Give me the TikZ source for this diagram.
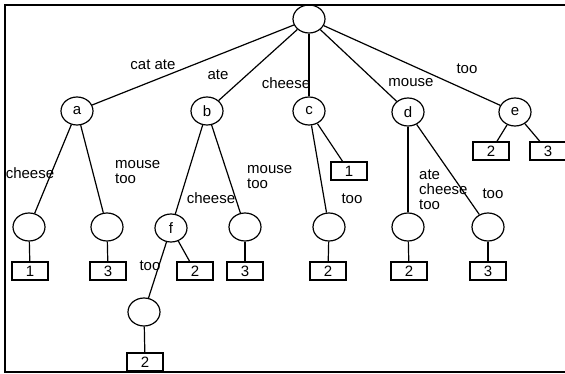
\documentclass[tikz,border=0pt]{standalone}
\usepackage{fontspec}
\setmainfont{Liberation Sans}
\usetikzlibrary{shapes.geometric}
\tikzset{
  circ/.style={draw, ellipse, minimum width=32pt, minimum height=28pt, inner sep=0pt, line width=1.2pt},
  leaf/.style={draw, rectangle, minimum width=36pt, minimum height=18pt, inner sep=0pt, line width=1.2pt},
  lab/.style={inner sep=0pt, font=\fontsize{15}{15}\selectfont},
  mlab/.style={inner sep=0pt, anchor=west, align=left, font=\fontsize{15}{15}\selectfont},
  edge/.style={line width=1.2pt}
}
\begin{document}
\begin{tikzpicture}[x=1pt, y=-1pt, every node/.style={font=\fontsize{15}{15}\selectfont}]
\useasboundingbox (0,0) rectangle (565,374);
% frame
\draw[line width=1.4pt] (566,5) -- (5,5) -- (5,372) -- (566,372);
% nodes
\node[circ] (root) at (309,19) {};
\node[circ] (a) at (77,111) {a};
\node[circ] (b) at (207,111) {b};
\node[circ] (c) at (309,111) {c};
\node[circ] (d) at (408,112) {d};
\node[circ] (e) at (515,112) {e};
\node[circ] (a1) at (29,227) {};
\node[circ] (a2) at (107,227) {};
\node[circ] (f) at (171,228) {f};
\node[circ] (b2) at (245,227) {};
\node[circ] (c1) at (329,227) {};
\node[circ] (d1) at (408,227) {};
\node[circ] (d2) at (488,227) {};
\node[circ] (f1) at (144,312) {};
\node[leaf] (la1) at (30,271) {1};
\node[leaf] (la2) at (108,271) {3};
\node[leaf] (lf) at (195,271) {2};
\node[leaf] (lb2) at (245,271) {3};
\node[leaf] (lc1) at (328,271) {2};
\node[leaf] (ld1) at (409,271) {2};
\node[leaf] (ld2) at (488,271) {3};
\node[leaf] (lc) at (349,171) {1};
\node[leaf] (le1) at (491,151) {2};
\node[leaf] (le2) at (548,151) {3};
\node[leaf] (lf1) at (145,362) {2};
% edges
\foreach \t in {a,b,c,d,e} \draw[edge] (root) -- (\t);
\draw[edge] (a) -- (a1); \draw[edge] (a) -- (a2);
\draw[edge] (b) -- (f); \draw[edge] (b) -- (b2);
\draw[edge] (c) -- (c1); \draw[edge] (c) -- (lc);
\draw[edge] (d) -- (d1); \draw[edge] (d) -- (d2);
\draw[edge] (e) -- (le1); \draw[edge] (e) -- (le2);
\draw[edge] (f) -- (f1); \draw[edge] (f) -- (lf);
\draw[edge] (a1) -- (la1); \draw[edge] (a2) -- (la2);
\draw[edge] (b2) -- (lb2); \draw[edge] (c1) -- (lc1);
\draw[edge] (d1) -- (ld1); \draw[edge] (d2) -- (ld2);
\draw[edge] (f1) -- (lf1);
% labels
\node[lab] (t1) at (153,65) {cat ate};
\node[lab] (t2) at (218,75) {ate};
\node[lab] (t3) at (286,83) {cheese};
\node[lab] (t4) at (411,83) {mouse};
\node[lab] (t5) at (467,69) {too};
\node[lab] (t6) at (30,173) {cheese};
\node[mlab] (t7) at (115,172.5) {mouse\\too};
\node[mlab] (t8) at (247,177.5) {mouse\\too};
\node[lab] (t9) at (211,198) {cheese};
\node[lab] (t10) at (150,266) {too};
\node[lab] (t11) at (352,199) {too};
\node[mlab] (t12) at (419,190) {ate\\cheese\\too};
\node[lab] (t13) at (493,194) {too};
\end{tikzpicture}
\end{document}
